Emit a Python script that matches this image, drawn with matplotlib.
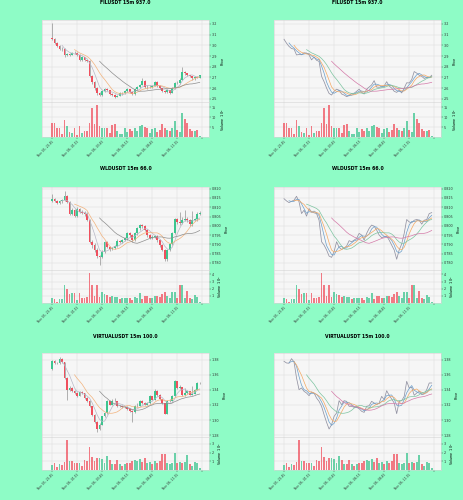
import numpy as np
import pandas as pd
import matplotlib
matplotlib.use('Agg')
import matplotlib.pyplot as plt
from matplotlib.ticker import MultipleLocator, FormatStrFormatter

# 15m candles, start time shared by all three symbols
start_time = '2025-11-05 22:45'
n_bars = 60

titles = ['FILUSDT 15m 937.0', 'WLDUSDT 15m 66.0', 'VIRTUALUSDT 15m 100.0']

fil_open = [3.065, 3.057, 3.020, 2.990, 2.970, 2.965, 2.910, 2.915, 2.912, 2.930,
            2.928, 2.910, 2.864, 2.890, 2.860, 2.850, 2.710, 2.660, 2.600, 2.550,
            2.535, 2.570, 2.590, 2.580, 2.545, 2.535, 2.520, 2.530, 2.550, 2.552,
            2.570, 2.590, 2.560, 2.545, 2.590, 2.610, 2.630, 2.670, 2.610, 2.608,
            2.612, 2.620, 2.660, 2.620, 2.600, 2.570, 2.560, 2.580, 2.555, 2.600,
            2.650, 2.648, 2.680, 2.755, 2.740, 2.720, 2.710, 2.690, 2.700, 2.698]
fil_high = [3.205, 3.065, 3.030, 3.000, 2.985, 2.975, 2.925, 2.930, 2.940, 2.945,
            2.935, 2.915, 2.900, 2.895, 2.865, 2.860, 2.720, 2.670, 2.610, 2.560,
            2.580, 2.600, 2.600, 2.585, 2.555, 2.545, 2.540, 2.560, 2.565, 2.580,
            2.600, 2.595, 2.570, 2.600, 2.620, 2.640, 2.690, 2.675, 2.625, 2.625,
            2.630, 2.670, 2.665, 2.630, 2.605, 2.580, 2.590, 2.585, 2.610, 2.660,
            2.665, 2.690, 2.800, 2.760, 2.745, 2.725, 2.715, 2.710, 2.710, 2.725]
fil_low = [3.050, 3.010, 2.980, 2.960, 2.950, 2.895, 2.900, 2.900, 2.905, 2.915,
           2.900, 2.855, 2.855, 2.850, 2.840, 2.700, 2.640, 2.580, 2.540, 2.525,
           2.530, 2.560, 2.570, 2.535, 2.525, 2.505, 2.515, 2.525, 2.540, 2.545,
           2.565, 2.550, 2.535, 2.540, 2.580, 2.600, 2.625, 2.600, 2.595, 2.600,
           2.600, 2.615, 2.610, 2.590, 2.560, 2.550, 2.555, 2.545, 2.550, 2.595,
           2.635, 2.640, 2.675, 2.725, 2.710, 2.700, 2.680, 2.680, 2.690, 2.695]
fil_close = [3.057, 3.020, 2.990, 2.970, 2.965, 2.910, 2.915, 2.912, 2.930, 2.928,
             2.910, 2.864, 2.890, 2.860, 2.850, 2.710, 2.660, 2.600, 2.550, 2.535,
             2.570, 2.590, 2.580, 2.545, 2.535, 2.520, 2.530, 2.550, 2.552, 2.570,
             2.590, 2.560, 2.545, 2.590, 2.610, 2.630, 2.670, 2.610, 2.608, 2.612,
             2.620, 2.660, 2.620, 2.600, 2.570, 2.560, 2.580, 2.555, 2.600, 2.650,
             2.648, 2.680, 2.755, 2.740, 2.720, 2.710, 2.690, 2.700, 2.698, 2.720]
fil_vol = [7.2, 7.2, 4.6, 4.3, 1.7, 8.6, 5.5, 2.6, 2.2, 4.6, 1.2, 5.5, 2.2, 2.9, 2.9,
           6.9, 14.8, 6.5, 16.0, 5.5, 4.3, 4.3, 4.3, 2.1, 5.8, 6.4, 2.9, 1.7, 1.7, 4.6,
           2.6, 4.0, 3.1, 4.3, 3.1, 5.5, 6.0, 5.2, 4.3, 2.1, 3.8, 4.6, 2.6, 3.4, 6.4,
           4.3, 3.4, 2.9, 4.3, 8.0, 3.4, 2.6, 12.0, 9.3, 6.9, 3.8, 2.9, 2.9, 3.4, 0.4]

wld_open = [0.8135, 0.8146, 0.8134, 0.8125, 0.8132, 0.8138, 0.8159, 0.8129, 0.8066, 0.8084,
            0.8052, 0.8093, 0.8075, 0.8070, 0.8066, 0.8030, 0.7914, 0.7896, 0.7870, 0.7837,
            0.7830, 0.7861, 0.7914, 0.7884, 0.7873, 0.7879, 0.7891, 0.7920, 0.7914, 0.7923,
            0.7932, 0.7959, 0.7950, 0.7923, 0.7959, 0.7986, 0.8004, 0.7998, 0.7977, 0.7950,
            0.7936, 0.7941, 0.7945, 0.7923, 0.7896, 0.7870, 0.7820, 0.7870, 0.7902, 0.7959,
            0.8034, 0.8021, 0.8016, 0.8030, 0.8034, 0.8030, 0.8009, 0.8030, 0.8034, 0.8066]
wld_high = [0.8172, 0.8152, 0.8140, 0.8138, 0.8145, 0.8188, 0.8165, 0.8135, 0.8095, 0.8090,
            0.8100, 0.8098, 0.8085, 0.8078, 0.8072, 0.8035, 0.7925, 0.7905, 0.7878, 0.7845,
            0.7868, 0.7920, 0.7918, 0.7892, 0.7885, 0.7898, 0.7928, 0.7925, 0.7930, 0.7940,
            0.7965, 0.7965, 0.7955, 0.7965, 0.7992, 0.8012, 0.8010, 0.8002, 0.7982, 0.7955,
            0.7950, 0.7952, 0.7950, 0.7928, 0.7900, 0.7875, 0.7875, 0.7908, 0.7965, 0.8040,
            0.8040, 0.8075, 0.8050, 0.8085, 0.8045, 0.8035, 0.8080, 0.8040, 0.8072, 0.8078]
wld_low = [0.8128, 0.8128, 0.8118, 0.8120, 0.8125, 0.8132, 0.8125, 0.8060, 0.8060, 0.8045,
           0.8048, 0.8070, 0.8062, 0.8055, 0.8025, 0.7905, 0.7880, 0.7860, 0.7825, 0.7790,
           0.7825, 0.7855, 0.7878, 0.7865, 0.7868, 0.7875, 0.7885, 0.7905, 0.7908, 0.7918,
           0.7925, 0.7942, 0.7915, 0.7918, 0.7952, 0.7980, 0.7990, 0.7970, 0.7942, 0.7928,
           0.7930, 0.7935, 0.7915, 0.7888, 0.7862, 0.7812, 0.7812, 0.7862, 0.7895, 0.7955,
           0.8012, 0.8005, 0.8010, 0.8025, 0.8022, 0.8000, 0.8000, 0.8025, 0.8028, 0.8060]
wld_close = [0.8146, 0.8134, 0.8125, 0.8132, 0.8138, 0.8159, 0.8129, 0.8066, 0.8084, 0.8052,
             0.8093, 0.8075, 0.8070, 0.8066, 0.8030, 0.7914, 0.7896, 0.7870, 0.7837, 0.7830,
             0.7861, 0.7914, 0.7884, 0.7873, 0.7879, 0.7891, 0.7920, 0.7914, 0.7923, 0.7932,
             0.7959, 0.7950, 0.7923, 0.7959, 0.7986, 0.8004, 0.7998, 0.7977, 0.7950, 0.7936,
             0.7941, 0.7945, 0.7923, 0.7896, 0.7870, 0.7820, 0.7870, 0.7902, 0.7959, 0.8034,
             0.8021, 0.8016, 0.8030, 0.8034, 0.8030, 0.8009, 0.8030, 0.8034, 0.8066, 0.8071]
wld_vol = [0.7, 0.55, 0.2, 0.55, 0.55, 2.5, 2.0, 1.2, 1.45, 1.45, 0.45, 1.45, 0.7, 0.7, 0.9,
           4.2, 2.5, 1.05, 2.5, 0.9, 1.5, 1.2, 1.15, 0.8, 1.05, 0.8, 0.8, 0.55, 0.7, 0.77,
           0.77, 0.7, 0.45, 0.8, 0.7, 1.35, 0.6, 1.05, 1.05, 0.7, 0.7, 1.0, 1.0, 0.9, 1.3,
           1.5, 1.05, 0.7, 1.5, 1.5, 0.77, 2.5, 2.5, 0.7, 1.7, 0.7, 0.6, 1.15, 0.85, 0.2]

vir_open = [1.3676, 1.3778, 1.3756, 1.3752, 1.3813, 1.3769, 1.3557, 1.3403, 1.3425, 1.3381,
            1.3358, 1.3323, 1.3372, 1.3358, 1.3292, 1.3248, 1.3182, 1.3072, 1.2970, 1.2882,
            1.2939, 1.3049, 1.3094, 1.3257, 1.3204, 1.3257, 1.3248, 1.3182, 1.3182, 1.3169,
            1.3169, 1.3151, 1.3116, 1.3102, 1.3182, 1.3191, 1.3248, 1.3226, 1.3204, 1.3226,
            1.3314, 1.3270, 1.3389, 1.3328, 1.3279, 1.3226, 1.3085, 1.3248, 1.3257, 1.3314,
            1.3513, 1.3425, 1.3434, 1.3328, 1.3358, 1.3381, 1.3337, 1.3345, 1.3403, 1.3491]
vir_high = [1.3790, 1.3800, 1.3770, 1.3830, 1.3820, 1.3775, 1.3570, 1.3450, 1.3440, 1.3400,
            1.3370, 1.3385, 1.3380, 1.3365, 1.3300, 1.3260, 1.3190, 1.3080, 1.2985, 1.2960,
            1.3060, 1.3110, 1.3270, 1.3270, 1.3275, 1.3290, 1.3255, 1.3195, 1.3200, 1.3185,
            1.3180, 1.3165, 1.3130, 1.3195, 1.3220, 1.3260, 1.3270, 1.3235, 1.3240, 1.3330,
            1.3325, 1.3410, 1.3395, 1.3340, 1.3285, 1.3230, 1.3260, 1.3275, 1.3330, 1.3530,
            1.3520, 1.3460, 1.3440, 1.3420, 1.3400, 1.3390, 1.3450, 1.3415, 1.3500, 1.3505]
vir_low = [1.3660, 1.3745, 1.3740, 1.3745, 1.3760, 1.3545, 1.3270, 1.3390, 1.3370, 1.3345,
           1.3310, 1.3315, 1.3350, 1.3280, 1.3235, 1.3170, 1.3060, 1.2960, 1.2842, 1.2875,
           1.2930, 1.3040, 1.3085, 1.3195, 1.3195, 1.3235, 1.3175, 1.3170, 1.3160, 1.3155,
           1.3140, 1.3105, 1.2975, 1.3095, 1.3175, 1.3185, 1.3215, 1.3195, 1.3198, 1.3215,
           1.3260, 1.3265, 1.3320, 1.3270, 1.3215, 1.3075, 1.3075, 1.3240, 1.3250, 1.3305,
           1.3415, 1.3415, 1.3320, 1.3320, 1.3350, 1.3330, 1.3330, 1.3340, 1.3395, 1.3480]
vir_close = [1.3778, 1.3756, 1.3752, 1.3813, 1.3769, 1.3557, 1.3403, 1.3425, 1.3381, 1.3358,
             1.3323, 1.3372, 1.3358, 1.3292, 1.3248, 1.3182, 1.3072, 1.2970, 1.2882, 1.2939,
             1.3049, 1.3094, 1.3257, 1.3204, 1.3257, 1.3248, 1.3182, 1.3182, 1.3169, 1.3169,
             1.3151, 1.3116, 1.3102, 1.3182, 1.3191, 1.3248, 1.3226, 1.3204, 1.3226, 1.3314,
             1.3270, 1.3389, 1.3328, 1.3279, 1.3226, 1.3085, 1.3248, 1.3257, 1.3314, 1.3513,
             1.3425, 1.3434, 1.3328, 1.3358, 1.3381, 1.3337, 1.3345, 1.3403, 1.3491, 1.3491]
vir_vol = [0.6, 0.8, 0.3, 0.65, 0.6, 0.95, 3.45, 1.05, 1.05, 0.85, 0.85, 0.85, 0.5, 1.15, 1.05,
           2.7, 1.5, 1.05, 1.35, 1.35, 1.25, 0.85, 1.6, 1.15, 0.65, 0.65, 1.15, 0.65, 0.5, 0.65,
           0.8, 0.8, 1.05, 1.2, 1.05, 1.25, 0.9, 1.4, 0.8, 0.95, 0.65, 1.05, 0.8, 1.05, 1.8,
           1.8, 0.85, 0.65, 0.85, 2.0, 0.85, 0.95, 0.85, 0.95, 1.7, 0.65, 0.5, 0.95, 0.85, 0.2]

# axis settings per symbol: price ylim, price tick step, tick format, volume exponent, volume tick step
price_ylim = [(2.47, 3.237), (0.7762, 0.8209), (1.2776, 1.3888)]
price_step = [0.1, 0.005, 0.02]
price_fmt = ['%.1f', '%.3f', '%.2f']
vol_exp = [5, 6, 6]
vol_step = [5, 1, 1]

BG = '#8efcc6'
UP = '#3dc58f'
DOWN = '#f0505e'
FS = 2.4

data = [
    (fil_open, fil_high, fil_low, fil_close, fil_vol),
    (wld_open, wld_high, wld_low, wld_close, wld_vol),
    (vir_open, vir_high, vir_low, vir_close, vir_vol),
]

dates = pd.date_range(start_time, periods=n_bars, freq='15min')
tick_pos = np.arange(0, 61, 10)
tick_lab = [dates[t].strftime('%b %d, %H:%M') if t < n_bars else '' for t in tick_pos]

fig = plt.figure(figsize=(4.64, 5.0), dpi=100, facecolor=BG)

# pixel boxes (top, price bottom, volume bottom) per row
rows_px = [(20, 102, 137), (187, 270, 303), (353, 437, 470)]
cols_px = [(42, 209), (274, 441)]
title_y = [3, 168, 336]
W, H = 464.0, 500.0


def style_ax(ax):
    ax.set_facecolor('#f6f6f6')
    for s in ax.spines.values():
        s.set_color('#d4d4d4')
        s.set_linewidth(0.4)
    ax.grid(True, color='#dddddd', linewidth=0.35)
    ax.set_axisbelow(True)
    ax.yaxis.tick_right()
    ax.yaxis.set_label_position('right')
    ax.tick_params(labelsize=FS, length=1.2, width=0.3, pad=1, colors='#333333')
    ax.set_xlim(-4, 62.7)
    ax.set_xticks(tick_pos)


for r, (o, h, l, c, v) in enumerate(data):
    o = np.array(o); h = np.array(h); l = np.array(l); c = np.array(c); v = np.array(v)
    x = np.arange(len(c))
    up = c >= o
    cols = np.where(up, UP, DOWN)
    close_s = pd.Series(c)
    top, mid, bot = rows_px[r]
    for k, (x0, x1) in enumerate(cols_px):
        axp = fig.add_axes([x0 / W, 1 - mid / H, (x1 - x0) / W, (mid - top) / H])
        axv = fig.add_axes([x0 / W, 1 - bot / H, (x1 - x0) / W, (bot - mid) / H], sharex=axp)
        for ax in (axp, axv):
            style_ax(ax)
        if k == 0:
            axp.vlines(x, l, h, color='#7a7a7a', linewidth=0.4, zorder=2)
            axp.bar(x, np.maximum(np.abs(c - o), (price_ylim[r][1] - price_ylim[r][0]) * 0.004),
                    bottom=np.minimum(o, c), width=0.72, color=cols, linewidth=0, zorder=3)
            for win, colr in [(5, '#b7b7c6'), (10, '#f2b27c'), (20, '#8e8e8e')]:
                axp.plot(x, close_s.rolling(win).mean(), color=colr, linewidth=0.5, zorder=4)
        else:
            axp.plot(x, c, color='#9292a2', linewidth=0.55, zorder=3)
            for win, colr in [(3, '#6a9ecb'), (5, '#f4a862'), (10, '#7cc4a0'), (20, '#d47aa8')]:
                axp.plot(x, close_s.rolling(win).mean(), color=colr, linewidth=0.5, zorder=4)
        axp.set_ylim(*price_ylim[r])
        axp.yaxis.set_major_locator(MultipleLocator(price_step[r]))
        axp.yaxis.set_major_formatter(FormatStrFormatter(price_fmt[r]))
        axp.set_ylabel('Price', fontsize=FS, labelpad=2)
        axp.tick_params(axis='x', labelbottom=False, length=0)

        axv.bar(x, v, width=0.72, color=cols, alpha=0.75, linewidth=0)
        axv.set_ylim(0, max(v) * 1.1)
        axv.yaxis.set_major_locator(MultipleLocator(vol_step[r]))
        axv.set_yticks([t for t in axv.get_yticks() if 0 < t <= max(v) * 1.1])
        axv.yaxis.set_major_formatter(FormatStrFormatter('%g'))
        axv.set_ylabel('Volume  $10^{%d}$' % vol_exp[r], fontsize=FS, labelpad=2)
        axv.set_xticks(tick_pos)
        axv.set_xticklabels(tick_lab, rotation=45, ha='right', va='top',
                            rotation_mode='anchor', fontsize=FS - 0.2)

        fig.text((x0 + x1) / 2 / W, 1 - title_y[r] / H, titles[r], ha='center', va='center',
                 fontsize=3.3, fontweight='bold')

fig.savefig('out.png', dpi=100, facecolor=BG)
